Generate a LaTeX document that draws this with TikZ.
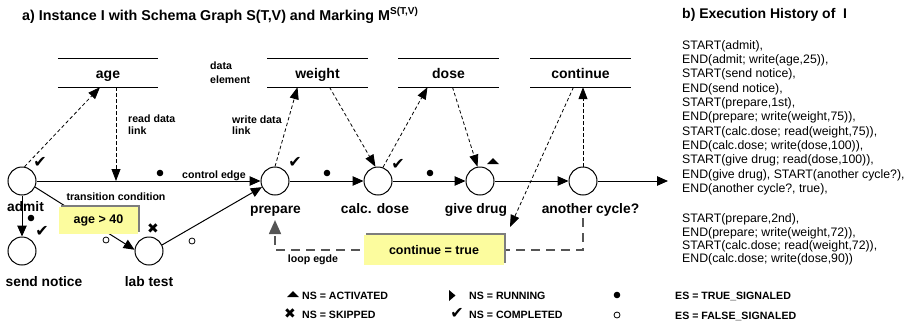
\documentclass[tikz,border=0pt]{standalone}
\usepackage{fontspec}
\setmainfont{Liberation Sans}
\newfontfamily\dvfont{DejaVu Sans}
\usetikzlibrary{arrows.meta,calc,shadows}
\definecolor{condyellow}{RGB}{252,252,158}
\definecolor{loopgray}{RGB}{85,85,85}
\definecolor{shadowgray}{RGB}{125,125,125}
\newcommand\fsz[1]{\fontsize{#1}{#1}\selectfont}
\begin{document}
\begin{tikzpicture}[x=1pt,y=-1pt,
  act/.style={circle,draw,line width=1pt,minimum size=28pt,inner sep=0pt},
  actlabel/.style={font=\bfseries\fsz{13.8},anchor=base,inner sep=0pt},
  datael/.style={minimum width=100pt,minimum height=28pt,inner sep=0pt,font=\bfseries\fsz{14},text height=12pt,text depth=1pt},
  dataline/.style={line width=0.9pt},
  ctrl/.style={line width=1pt,-{Triangle[length=11pt,width=9.5pt]}},
  dlink/.style={line width=0.8pt,dash pattern=on 3.5pt off 2.5pt,-{Triangle[length=12pt,width=9pt]}},
  loopedge/.style={line width=1.8pt,loopgray,dash pattern=on 9pt off 6pt,-{Triangle[length=14pt,width=12pt]}},
  small/.style={font=\bfseries\fsz{10.6},inner sep=0pt},
  legend/.style={font=\bfseries\fsz{10.6},anchor=west,inner sep=0pt},
  hist/.style={font=\fsz{12.3},anchor=base west,inner sep=0pt},
  condbox/.style={fill=condyellow,inner sep=0pt,font=\bfseries\fsz{12.5},
    drop shadow={shadow xshift=2pt,shadow yshift=2pt,fill=shadowgray,opacity=1}},
  chk/.style={font=\dvfont\fsz{16},inner sep=0pt},
  xmk/.style={font=\dvfont\fsz{14},inner sep=0pt},
  tdot/.style={fill=black},
  fdot/.style={draw=black,fill=white,line width=0.8pt}
]
\useasboundingbox (0,0) rectangle (914,330);

% titles
\node[anchor=base west,inner sep=0pt,font=\bfseries\fsz{14.3}] (titleA) at (22,20)
  {a) Instance I with Schema Graph S(T,V) and Marking M\textsuperscript{S(T,V)}};
\node[anchor=base west,inner sep=0pt,font=\bfseries\fsz{14}] (titleB) at (682,18.5)
  {b) Execution History of\ \ I};

% data elements
\node[datael] (age) at (108,73) {age};
\node[datael] (weight) at (317.5,73) {weight};
\node[datael] (dose) at (448.5,73) {dose};
\node[datael] (continue) at (580.5,73) {continue};
\foreach \n in {age,weight,dose,continue}
  \draw[dataline] (\n.north west) -- (\n.north east) (\n.south west) -- (\n.south east);

% activities
\node[act] (admit) at (22,181) {};
\node[act] (sendnotice) at (22,251) {};
\node[act] (labtest) at (149,251) {};
\node[act] (prepare) at (275,181) {};
\node[act] (calcdose) at (378,181) {};
\node[act] (givedrug) at (480,181) {};
\node[act] (anothercycle) at (583,181) {};
\coordinate (endpt) at (668,181);

\node[actlabel] (admitL) at (25.5,211) {admit};
\node[actlabel] (sendnoticeL) at (44,286) {send notice};
\node[actlabel] (labtestL) at (149,286) {lab test};
\node[actlabel] (prepareL) at (275.5,213) {prepare};
\node[actlabel] (calcdoseL) at (375,213) {calc. dose};
\node[actlabel] (givedrugL) at (476,213) {give drug};
\node[actlabel] (anothercycleL) at (590.5,213) {another cycle?};

% loop edge
\coordinate (loopy) at (0,250);
\draw[loopedge] ($(anothercycle.south |- anothercycleL.south)+(0,2)$) -- (anothercycle.south |- loopy)
  -- (prepare.south |- loopy) -- ($(prepare.south |- prepareL.south)+(0,4)$);

% control edges
\draw[ctrl] (admit) -- (prepare);
\draw[ctrl] (admit) -- (sendnotice);
\draw[ctrl] (admit.-25) -- (labtest.175);
\draw[ctrl] (labtest.25) -- (prepare.205);
\draw[ctrl] (prepare) -- (calcdose);
\draw[ctrl] (calcdose) -- (givedrug);
\draw[ctrl] (givedrug) -- (anothercycle);
\draw[ctrl] (anothercycle) -- (endpt);

% condition boxes
\node[condbox,minimum width=79pt,minimum height=27pt] (cond1) at (98.5,220.5) {age > 40};
\node[condbox,minimum width=140pt,minimum height=30pt] (cond2) at (434,250) {continue = true};
\coordinate (condin) at (510,227);

% data links
\draw[dlink] (admit.80) -- ([xshift=-8pt]age.south);
\draw[dlink] ([xshift=8pt]age.south) -- ([xshift=8pt]age.south |- admit.center);
\draw[dlink] (prepare.north) -- ([xshift=-20pt]weight.south);
\draw[dlink] ([xshift=12pt]weight.south) -- (calcdose.100);
\draw[dlink] (calcdose.70) -- ([xshift=-21pt]dose.south);
\draw[dlink] ([xshift=4pt]dose.south) -- (givedrug.100);
\draw[dlink] ([xshift=-7pt]continue.south) -- (condin);
\draw[dlink] (anothercycle.north) -- (anothercycle.north |- continue.south);

% small labels
\node[small,anchor=base west] (de1) at (210,69.8) {data};
\node[small,anchor=base west] (de2) at (210,83) {element};
\node[small,anchor=base west] (rd1) at (128,122) {read data};
\node[small,anchor=base west] (rd2) at (128,134) {link};
\node[small,anchor=base west] (wd1) at (232,123) {write data};
\node[small,anchor=base west] (wd2) at (232,134) {link};
\node[small,anchor=base] (ce) at (214,178) {control edge};
\node[small,anchor=base] (tc) at (116,200) {transition condition};
\node[small,anchor=base] (le) at (313,262) {loop egde};

% markings
\node[chk] (m1) at (40,162) {✔};
\node[chk] (m2) at (42,231) {✔};
\node[chk] (m3) at (295,162) {✔};
\node[chk] (m4) at (398,164) {✔};
\node[xmk] (m5) at (153,229) {✖};
\fill (487,164) -- (493,158) -- (499,164) -- cycle;
\fill[tdot] (160,173) circle (3.3pt);
\fill[tdot] (327,173) circle (3.3pt);
\fill[tdot] (430,173) circle (3.3pt);
\fill[tdot] (31,218) circle (3.3pt);
\draw[fdot] (106,240) circle (3pt);
\draw[fdot] (192,241) circle (3pt);

% legend
\fill (287,297) -- (293,291) -- (299,297) -- cycle;
\node[legend] (l1) at (302,296) {NS = ACTIVATED};
\node[xmk] (l2m) at (290,314) {✖};
\node[legend] (l2) at (302,315) {NS = SKIPPED};
\fill (449,290) -- (455.5,295.5) -- (449,301) -- cycle;
\node[legend] (l3) at (469,296) {NS = RUNNING};
\node[chk] (l4m) at (457,313) {✔};
\node[legend] (l4) at (469,315) {NS = COMPLETED};
\fill[tdot] (617,295) circle (3.3pt);
\node[legend] (l5) at (675,296) {ES = TRUE\_SIGNALED};
\draw[fdot] (617,315) circle (3pt);
\node[legend] (l6) at (675,316) {ES = FALSE\_SIGNALED};

% execution history
\foreach \t [count=\i] in {{START(admit),},{END(admit; write(age,25)),},{START(send notice),},{END(send notice),},{START(prepare,1st),},{END(prepare; write(weight,75)),},{START(calc.dose; read(weight,75)),},{END(calc.dose; write(dose,100)),},{START(give drug; read(dose,100)),},{END(give drug), START(another cycle?),},{END(another cycle?, true),}}
  \node[hist] (h\i) at (682,{49.3+14.3*(\i-1)}) {\t};
\foreach \t [count=\i] in {{START(prepare,2nd),},{END(prepare; write(weight,72)),},{START(calc.dose; read(weight,72)),},{END(calc.dose; write(dose,90))}}
  \node[hist] (k\i) at (682,{222.6+13.4*(\i-1)}) {\t};
\end{tikzpicture}
\end{document}
